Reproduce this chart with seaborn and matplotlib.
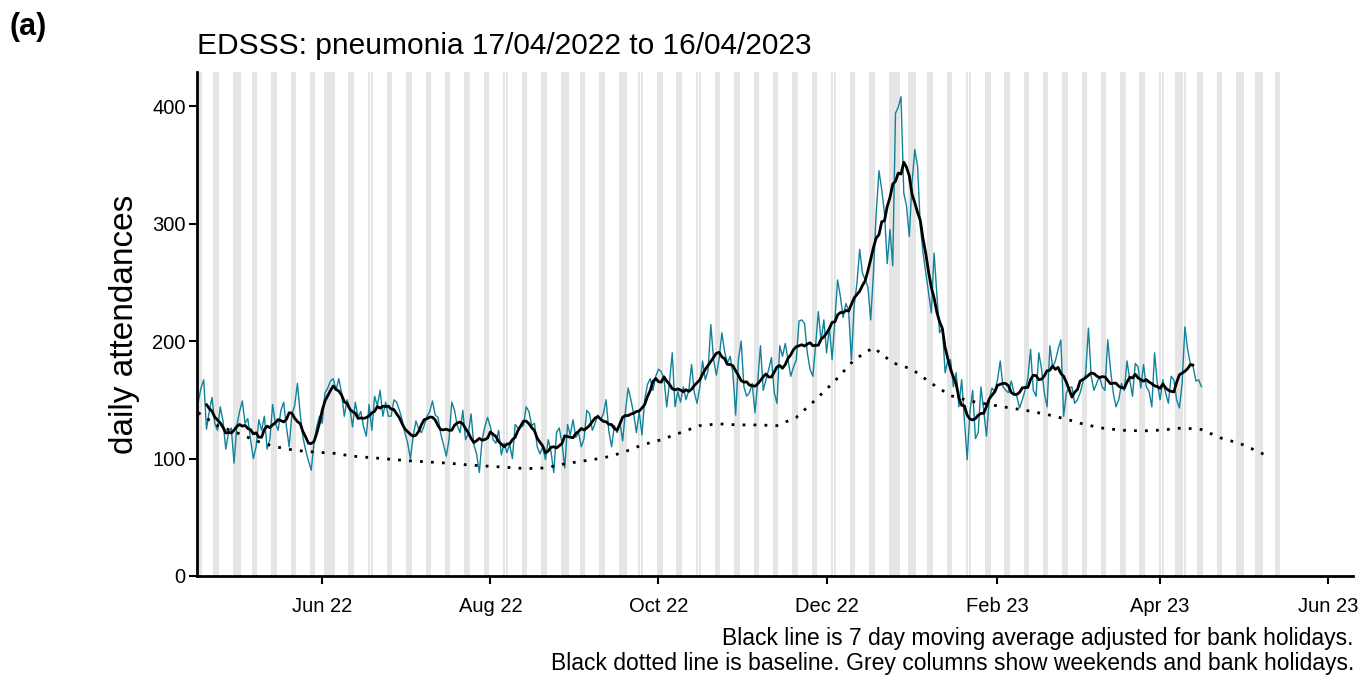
import matplotlib
matplotlib.use("Agg")
import matplotlib.pyplot as plt
import matplotlib.dates as mdates
import pandas as pd
import seaborn as sns

start_date = "2022-04-17"

# daily pneumonia attendances, one row per week (Sun..Sat)
daily_attendances = [
    148, 160, 167, 125, 140, 152, 130,
    124, 144, 132, 108, 122, 126, 96,
    128, 140, 149, 130, 134, 116, 100,
    110, 133, 124, 136, 108, 116, 146,
    130, 124, 141, 148, 127, 110, 138,
    145, 164, 138, 118, 107, 98, 90,
    113, 127, 136, 130, 156, 160, 166,
    168, 158, 168, 156, 136, 150, 143,
    127, 148, 135, 140, 127, 119, 146,
    124, 153, 145, 158, 136, 148, 136,
    136, 150, 148, 141, 133, 122, 113,
    100, 119, 132, 125, 122, 128, 136,
    140, 149, 137, 135, 121, 112, 102,
    116, 148, 141, 128, 122, 141, 116,
    121, 138, 112, 104, 88, 116, 127,
    135, 127, 116, 113, 124, 103, 113,
    105, 112, 100, 129, 126, 127, 128,
    144, 140, 128, 130, 110, 104, 110,
    99, 116, 106, 88, 122, 126, 113,
    92, 129, 120, 133, 118, 122, 110,
    117, 141, 138, 124, 130, 137, 133,
    138, 150, 123, 110, 128, 122, 131,
    115, 140, 160, 150, 138, 122, 140,
    120, 150, 163, 168, 158, 170, 176,
    174, 168, 144, 165, 190, 144, 157,
    148, 161, 150, 158, 180, 156, 147,
    161, 183, 167, 175, 214, 184, 171,
    185, 207, 191, 181, 187, 173, 137,
    184, 200, 161, 153, 156, 164, 139,
    165, 196, 158, 167, 176, 186, 156,
    147, 196, 187, 198, 184, 170, 178,
    184, 217, 218, 215, 190, 176, 170,
    196, 225, 200, 218, 190, 212, 184,
    218, 252, 238, 220, 232, 226, 184,
    230, 249, 278, 258, 252, 246, 218,
    258, 309, 345, 329, 309, 266, 295,
    264, 394, 399, 408, 326, 315, 289,
    335, 363, 349, 298, 275, 258, 241,
    224, 275, 240, 207, 212, 173, 184,
    184, 161, 173, 144, 167, 133, 99,
    140, 158, 117, 122, 161, 141, 119,
    150, 160, 157, 167, 183, 161, 158,
    156, 166, 156, 153, 143, 150, 158,
    168, 193, 158, 153, 190, 176, 156,
    144, 196, 178, 183, 193, 201, 136,
    156, 160, 161, 147, 150, 156, 165,
    172, 211, 170, 158, 164, 170, 161,
    158, 201, 176, 156, 144, 150, 164,
    158, 183, 167, 153, 181, 178, 160,
    180, 161, 157, 144, 190, 164, 150,
    167, 156, 147, 170, 167, 150, 143,
    164, 212, 193, 180, 178, 166, 167,
    161,
]

# baseline, days after start_date
baseline_days = [0, 7, 14, 21, 28, 35, 42, 49, 56, 63, 70, 77, 84, 91, 98,
                 105, 112, 119, 126, 133, 140, 147, 154, 161, 168, 175, 182,
                 189, 196, 203, 210, 217, 224, 231, 238, 245, 252, 259, 266,
                 273, 280, 287, 294, 301, 308, 315, 322, 329, 336, 343, 350,
                 357, 364, 371, 378, 385, 388]
baseline_values = [139, 128, 122, 115, 110, 107, 105.5, 104.5, 102, 100.7,
                   99.3, 98, 97, 96, 94.5, 93.5, 92.5, 91.4, 92, 95.5, 98,
                   100.5, 105, 111.5, 116, 122, 128, 129.5, 128.6, 128.6, 128,
                   135, 150, 166, 184, 194.5, 181.5, 176, 164, 153.5, 149,
                   146, 143.3, 140.7, 137.5, 133.5, 128.7, 125.5, 124, 123.5,
                   124.3, 126, 124.7, 117.5, 112.8, 105.5, 102]

bank_holidays = ["2022-04-18", "2022-05-02", "2022-06-02", "2022-06-03",
                 "2022-08-29", "2022-09-19", "2022-12-26", "2022-12-27",
                 "2023-01-02", "2023-04-07", "2023-04-10", "2023-05-01",
                 "2023-05-08"]
shade_end = "2023-05-14"

title = "EDSSS: pneumonia 17/04/2022 to 16/04/2023"
caption = ("Black line is 7 day moving average adjusted for bank holidays.\n"
           "Black dotted line is baseline. Grey columns show weekends and bank holidays.")

teal = "#10829a"
shade_col = "#e5e5e5"

sns.set_style("ticks")
plt.rcParams["font.family"] = ["Liberation Sans", "DejaVu Sans"]
plt.rcParams["text.color"] = "black"
plt.rcParams["axes.labelcolor"] = "black"

df = pd.DataFrame({
    "date": pd.date_range(start_date, periods=len(daily_attendances), freq="D"),
    "count": daily_attendances,
})
df["ma7"] = df["count"].rolling(7, center=True).mean()

base_df = pd.DataFrame({
    "date": pd.Timestamp(start_date) + pd.to_timedelta(baseline_days, unit="D"),
    "baseline": baseline_values,
})

fig = plt.figure(figsize=(13.62, 6.77), dpi=100)
ax = fig.add_axes([0.1446, 0.1492, 0.8488, 0.7444])

# weekends + bank holidays
bh = set(pd.to_datetime(bank_holidays))
for d in pd.date_range(start_date, shade_end):
    if d.dayofweek >= 5 or d in bh:
        x = mdates.date2num(d)
        ax.axvspan(x - 0.47, x + 0.47, color=shade_col, lw=0, zorder=0)

sns.lineplot(data=df, x="date", y="count", color=teal, lw=1.0,
             estimator=None, ax=ax, zorder=2)
sns.lineplot(data=base_df, x="date", y="baseline", color="black", lw=2.0,
             estimator=None, ax=ax, zorder=3)
ax.lines[-1].set_linestyle((0, (1, 2.95)))
sns.lineplot(data=df, x="date", y="ma7", color="black", lw=2.0,
             estimator=None, ax=ax, zorder=4)

ax.set_xlim(mdates.date2num(pd.Timestamp("2022-04-16 13:00")),
            mdates.date2num(pd.Timestamp("2023-06-10")))
ax.set_ylim(0, 429)
ax.set_yticks([0, 100, 200, 300, 400])
ax.xaxis.set_major_locator(mdates.MonthLocator(bymonth=[2, 4, 6, 8, 10, 12]))
ax.xaxis.set_major_formatter(mdates.DateFormatter("%b %y"))

for side in ["top", "right"]:
    ax.spines[side].set_visible(False)
for side in ["left", "bottom"]:
    ax.spines[side].set_linewidth(2.0)
    ax.spines[side].set_color("black")
ax.tick_params(axis="both", length=6, width=1.5, color="black",
               labelsize=14.5, labelcolor="black")
ax.tick_params(axis="x", pad=9)
ax.tick_params(axis="y", pad=2)

ax.set_xlabel("")
ax.set_ylabel("daily attendances", fontsize=24, color="black")
ax.yaxis.set_label_coords(-0.049, 0.5)
ax.set_title(title, loc="left", fontsize=21.5, pad=13, color="black")

fig.text(0.007, 0.982, "(a)", fontsize=22, fontweight="bold", va="top", ha="left",
         color="black")
fig.text(1354 / 1362, 0.074, caption, fontsize=16.5, ha="right", va="top",
         linespacing=1.13, multialignment="right", color="black")

fig.savefig("out.png", dpi=100)
